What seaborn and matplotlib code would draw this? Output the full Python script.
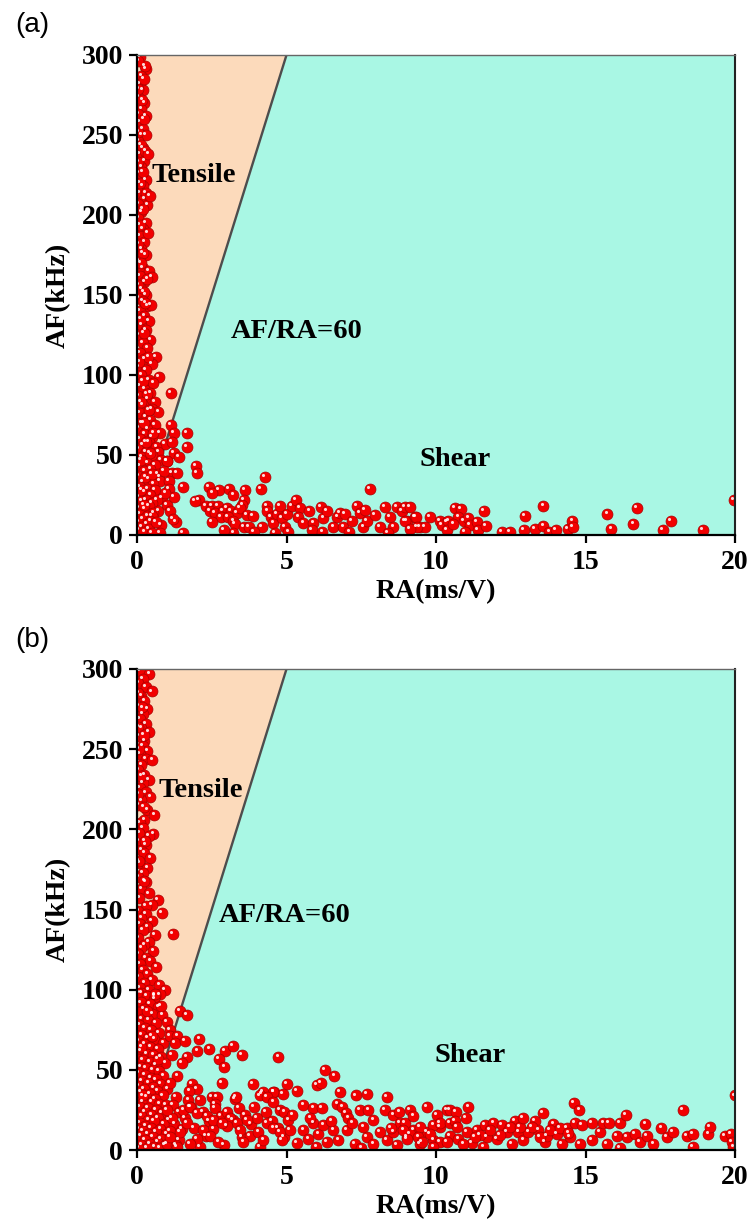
import matplotlib
matplotlib.use("Agg")
import matplotlib.pyplot as plt
import pandas as pd
import seaborn as sns
from matplotlib.transforms import offset_copy

sns.set_theme(style="white")
plt.rcParams["font.family"] = ["Liberation Serif", "DejaVu Serif"]
plt.rcParams["text.color"] = "black"
plt.rcParams["axes.labelcolor"] = "black"
plt.rcParams["xtick.color"] = "black"
plt.rcParams["ytick.color"] = "black"

# ---------------- axis settings ----------------
RA_MAX = 20
AF_MAX = 300
AF_RA_RATIO = 60
X_TICKS = [0, 5, 10, 15, 20]
Y_TICKS = [0, 50, 100, 150, 200, 250, 300]
X_LABEL = "RA(ms/V)"
Y_LABEL = "AF(kHz)"
PANEL_TAGS = ["(a)", "(b)"]
REGION_TEXT = ["Tensile", "AF/RA=60", "Shear"]

# ---------------- panel (a): (RA, AF) events ----------------
column_top_a = [
    (0.1, 299), (0.3, 291), (0.15, 287), (0.1, 282), (0.2, 278), (0.05, 274), (0.25, 270),
    (0.15, 266), (0.3, 262), (0.1, 258), (0.2, 254), (0.15, 250), (0.3, 250), (0.05, 246),
    (0.2, 242), (0.1, 238), (0.25, 234), (0.15, 230), (0.05, 226), (0.3, 222), (0.2, 218),
    (0.1, 214), (0.25, 210), (0.35, 206), (0.15, 202), (0.05, 198), (0.3, 195), (0.2, 191),
    (0.1, 187), (0.25, 183), (0.15, 179), (0.3, 175), (0.05, 171), (0.2, 167), (0.4, 165),
    (0.1, 162), (0.25, 158), (0.15, 154), (0.3, 150), (0.49, 161), (0.27, 293),
    (0.04, 296), (0.22, 285), (0.04, 279), (0.18, 272), (0.05, 263), (0.22, 260),
    (0.04, 252), (0.12, 244), (0.28, 240), (0.05, 233), (0.2, 227), (0.1, 220), (0.3, 214),
    (0.05, 207), (0.2, 204), (0.1, 194), (0.36, 189), (0.05, 182), (0.2, 176), (0.12, 170),
    (0.35, 160), (0.05, 156), (0.22, 152), (0.42, 212), (0.38, 238),
]
column_low_a = [
    (0.05, 148), (0.2, 146), (0.35, 143), (0.47, 144), (0.1, 140), (0.25, 137), (0.4, 134),
    (0.15, 131), (0.3, 128), (0.05, 125), (0.45, 122), (0.2, 120), (0.35, 117), (0.1, 114),
    (0.63, 111), (0.25, 110), (0.5, 107), (0.05, 105), (0.3, 103), (0.15, 100), (0.73, 99),
    (0.4, 97), (0.55, 95), (0.1, 93), (0.25, 91), (0.45, 89), (1.14, 89), (0.05, 87),
    (0.35, 85), (0.6, 83), (0.2, 81), (0.5, 79), (0.71, 77), (0.1, 76), (0.3, 74), (0.45, 72),
    (0.15, 70), (0.6, 69), (1.13, 69), (0.05, 67), (0.35, 66), (0.77, 64), (0.25, 63),
    (0.5, 61), (0.1, 60), (0.4, 58), (0.94, 57), (0.2, 56), (0.65, 55), (0.05, 54), (0.3, 52),
    (0.71, 52), (0.5, 50), (0.15, 49), (0.79, 47), (0.99, 46), (0.35, 45), (0.6, 44),
    (0.1, 43), (0.45, 41), (0.25, 40), (0.7, 38), (0.05, 37), (0.75, 36), (0.4, 35),
    (0.77, 34), (0.2, 33), (0.55, 32), (0.1, 30), (0.35, 29), (0.6, 28), (0.25, 27),
    (0.45, 25), (0.05, 24), (0.83, 23), (0.3, 22), (0.66, 22), (0.15, 21), (0.5, 20),
    (0.99, 19), (0.4, 18), (0.05, 17), (0.25, 16), (0.71, 15), (0.55, 14), (0.1, 13),
    (0.35, 12), (0.5, 12), (0.2, 10), (0.45, 9), (0.05, 8), (0.32, 7), (0.8, 6), (0.15, 5),
    (0.4, 4), (0.05, 3), (0.25, 2), (0.77, 1), (0.5, 1),
    (0.28, 145), (0.12, 135), (0.22, 126), (0.38, 111), (0.08, 108), (0.2, 96),
    (0.32, 88), (0.12, 83), (0.4, 78), (0.22, 70), (0.55, 64), (0.3, 58), (0.12, 47),
    (0.42, 51), (0.28, 36), (0.15, 28), (0.5, 38), (0.22, 19), (0.62, 8),
]
middle_a = [
    (1.24, 64), (1.67, 64), (1.16, 58), (1.67, 55), (1.24, 51), (1.4, 49), (1.0, 46),
    (1.97, 43), (2.0, 39), (1.16, 39), (1.33, 39), (1.07, 34), (1.54, 30), (1.07, 29),
    (1.24, 24), (2.06, 22), (1.94, 21), (1.3, 8), (1.54, 1), (0.9, 40), (1.1, 15),
    (1.2, 10), (0.95, 26),
]
tail_a = [
    (2.41, 30), (2.74, 28), (2.52, 26), (3.08, 29), (3.61, 28), (3.22, 25), (3.58, 22),
    (3.52, 19), (4.15, 29), (4.28, 36), (2.31, 18), (2.5, 18), (2.71, 18), (2.44, 15),
    (2.61, 14), (2.88, 15), (3.0, 17), (3.14, 15), (3.33, 14), (3.44, 17), (3.67, 12.5),
    (3.87, 12), (2.81, 11), (3.04, 11), (3.22, 9), (3.28, 7), (3.58, 5), (3.75, 5),
    (2.5, 8), (3.22, 1), (4.18, 5), (4.34, 18), (4.36, 15), (4.47, 11), (4.56, 7.5),
    (4.67, 13), (4.78, 18), (4.84, 10.5), (5.0, 13), (4.95, 5), (5.06, 2), (5.17, 18),
    (5.32, 22), (5.45, 17), (5.4, 11), (5.56, 7.5), (5.76, 15), (5.9, 7.5), (5.84, 3),
    (6.14, 17.5), (6.23, 10.5), (6.34, 15), (6.57, 5), (6.7, 11), (6.79, 14), (6.96, 13),
    (6.9, 5), (7.18, 9), (7.35, 18), (7.46, 14), (7.63, 15.6), (7.57, 5), (7.68, 9),
    (7.79, 29), (7.96, 12.5), (8.13, 5), (8.29, 17.5), (8.46, 11), (8.57, 5), (8.68, 17.5),
    (8.85, 15), (8.96, 17.5), (9.13, 17.5), (9.02, 9), (9.3, 11), (9.46, 5), (9.63, 5),
    (9.8, 11), (10.13, 9), (10.36, 8), (8.96, 9), (9.33, 11.5), (9.35, 5), (9.13, 4),
    (10.19, 6), (10.41, 9), (10.36, 3), (10.64, 17), (10.83, 16.5), (10.75, 11.5),
    (10.92, 9), (10.58, 7), (11.08, 10.5), (11.14, 6), (10.97, 2), (11.36, 8), (11.41, 3),
    (11.6, 15), (11.67, 5.6), (12.2, 2), (12.47, 2), (12.98, 12), (12.94, 3), (13.31, 3.5),
    (13.59, 18), (13.59, 5.6), (13.79, 2), (14.01, 3), (14.4, 4), (14.56, 9), (14.57, 5),
    (15.73, 13), (15.86, 4), (16.6, 7), (16.71, 17), (17.58, 3), (17.85, 9), (18.92, 3),
    (19.97, 22), (2.9, 3), (3.9, 2), (4.6, 1), (6.2, 2), (7.1, 2), (8.4, 1),
]

# ---------------- panel (b): (RA, AF) events ----------------
column_top_b = [
    (0.1, 299), (0.41, 297), (0.2, 294), (0.05, 291), (0.3, 289), (0.49, 286), (0.15, 283),
    (0.25, 280), (0.05, 277), (0.35, 275), (0.2, 272), (0.1, 269), (0.3, 266), (0.15, 263),
    (0.4, 261), (0.05, 258), (0.25, 255), (0.2, 252), (0.35, 249), (0.1, 247), (0.3, 244),
    (0.51, 243), (0.15, 240), (0.05, 237), (0.25, 234), (0.4, 231), (0.2, 229), (0.1, 226),
    (0.3, 223), (0.45, 220), (0.15, 218), (0.05, 215), (0.35, 212), (0.58, 209), (0.25, 206),
    (0.1, 204), (0.2, 201), (0.55, 197), (0.4, 196), (0.05, 193), (0.3, 190), (0.15, 187),
    (0.25, 185), (0.45, 182), (0.1, 179), (0.35, 176), (0.2, 173), (0.05, 170), (0.69, 156),
    (0.3, 167), (0.15, 163), (0.83, 148), (0.4, 160), (0.5, 153),
    (0.04, 285), (0.18, 276), (0.04, 264), (0.22, 259), (0.06, 250), (0.14, 233),
    (0.04, 222), (0.22, 214), (0.08, 198), (0.26, 193), (0.06, 180), (0.24, 168),
    (0.08, 157), (0.3, 152),
]
column_mid_b = [
    (0.05, 149), (0.3, 147), (0.15, 145), (0.5, 143), (0.1, 141), (0.35, 139), (0.2, 137),
    (1.19, 135), (0.6, 134), (0.05, 132), (0.4, 130), (0.25, 128), (0.15, 126), (0.55, 124),
    (0.05, 122), (0.3, 120), (0.45, 118), (0.1, 116), (0.65, 114), (0.2, 112), (0.35, 110),
    (0.05, 108), (0.5, 106), (0.25, 104), (0.75, 103), (0.1, 101), (0.94, 100), (0.4, 100),
    (0.15, 98), (0.77, 97), (0.6, 96),
]
column_low_b = [
    (0.05, 98), (0.32, 96), (0.58, 94), (0.12, 92), (0.43, 91), (0.71, 89), (0.22, 88),
    (0.03, 86), (0.51, 85), (0.85, 84), (0.17, 82), (0.38, 81), (0.64, 79), (0.08, 78),
    (0.27, 76), (0.99, 80), (0.47, 75), (0.74, 73), (0.14, 72), (0.36, 70), (0.58, 69),
    (0.04, 68), (0.88, 67), (0.24, 66), (0.45, 64), (0.69, 63), (0.11, 62), (0.33, 60),
    (0.55, 59), (0.79, 58), (0.02, 57), (0.2, 56), (0.42, 55), (0.95, 54), (0.63, 53),
    (0.13, 52), (0.3, 51), (0.52, 50), (0.73, 49), (0.07, 48), (0.26, 47), (0.88, 46),
    (0.46, 45), (0.62, 44), (0.16, 43), (0.38, 42), (0.78, 41), (0.04, 40), (0.55, 39),
    (1.02, 38), (0.23, 38), (0.68, 37), (0.11, 36), (0.42, 35), (0.86, 34), (0.31, 33),
    (0.6, 32), (0.03, 31), (0.19, 30), (0.5, 30), (0.75, 29), (0.97, 28), (0.09, 27),
    (0.36, 26), (0.64, 25), (0.26, 24), (0.84, 23), (0.48, 22), (0.02, 22), (0.15, 21),
    (0.7, 20), (1.06, 19), (0.38, 19), (0.57, 18), (0.1, 17), (0.9, 16), (0.28, 15),
    (0.46, 14), (0.78, 13), (0.05, 13), (0.2, 12), (0.62, 11), (0.98, 10), (0.36, 10),
    (0.12, 9), (0.52, 8), (0.8, 7), (0.03, 6), (0.27, 6), (0.68, 5), (0.44, 4), (0.92, 3),
    (0.15, 3), (0.58, 2), (0.33, 1), (0.05, 1), (0.75, 1), (0.2, 34), (0.7, 57), (0.35, 87),
    (0.6, 97), (0.15, 64), (0.5, 71), (0.8, 90),
]
spread_b = [
    (1.44, 87), (1.66, 84), (1.1, 75), (1.1, 71), (1.35, 71), (1.27, 67), (1.6, 68),
    (2.08, 69), (2.02, 62), (2.42, 63), (2.94, 62), (3.2, 65), (3.51, 59), (2.74, 57),
    (2.92, 52), (1.66, 58), (1.49, 54), (1.16, 59), (1.35, 46), (1.1, 42), (1.83, 41),
    (2.0, 38), (2.83, 42), (3.87, 41), (1.75, 37), (2.5, 33), (1.3, 33), (1.72, 31),
    (2.1, 31), (3.28, 32), (4.17, 35), (4.58, 36), (4.73, 58), (6.29, 50), (6.6, 46),
    (5.0, 41), (6.01, 40.5), (6.14, 41.6), (5.34, 37), (4.87, 35), (4.56, 36), (4.2, 36),
    (4.11, 34), (4.34, 33), (4.56, 30), (4.78, 25), (4.93, 24), (3.31, 33), (2.67, 33),
    (2.61, 29), (6.79, 36), (7.31, 34), (7.68, 35), (8.35, 33), (5.56, 28), (5.9, 26),
    (6.18, 26), (6.7, 29), (6.87, 27), (6.99, 23), (7.07, 20), (7.46, 25), (7.74, 25),
    (8.29, 25), (8.57, 22), (8.77, 23.5), (1.2, 28), (1.4, 24), (1.6, 20), (1.25, 16),
    (1.5, 13), (1.8, 27), (2.2, 24), (2.4, 18), (1.9, 14), (2.3, 9), (2.6, 26), (2.8, 21),
    (2.55, 13), (3.0, 24), (3.2, 19), (3.4, 26), (3.6, 22), (3.8, 16), (3.9, 27), (3.5, 8),
    (2.9, 3), (2.1, 2), (1.4, 6), (1.0, 4), (4.0, 20), (4.3, 24), (4.5, 18), (4.7, 14),
    (4.9, 8), (4.1, 2), (1.1, 12), (1.3, 3),
]
tail_b = [
    (3.11, 20), (3.33, 17), (3.0, 15), (3.44, 12.5), (3.67, 19), (3.78, 9), (3.56, 5),
    (4.06, 11), (4.22, 6), (4.34, 17), (4.56, 13.5), (4.78, 11), (4.84, 6), (5.06, 19),
    (5.12, 12.5), (5.34, 4.5), (5.56, 12.5), (5.73, 7), (5.9, 17), (6.06, 10), (6.23, 15.6),
    (6.34, 5), (6.57, 12.5), (6.73, 6), (7.01, 12.5), (7.29, 4), (7.57, 14.5), (7.68, 8),
    (7.9, 4), (8.13, 11), (8.35, 6), (8.57, 11), (8.8, 17), (9.02, 8), (9.24, 12.5),
    (9.46, 4), (9.69, 11), (9.91, 6), (10.13, 14.5), (2.22, 12.5), (2.44, 9), (2.72, 5),
    (2.0, 7), (1.77, 4), (1.66, 17), (1.44, 11), (1.33, 2), (1.1, 8), (1.16, 20),
    (0.99, 25), (1.55, 25), (1.77, 27), (2.0, 23), (2.33, 21), (2.55, 19), (2.83, 17),
    (8.96, 17), (9.13, 25), (9.24, 21), (9.69, 27), (10.02, 22), (10.36, 25),
    (10.47, 25), (10.67, 24), (11.08, 27), (9.46, 14.5), (9.91, 15.6), (10.13, 17),
    (10.47, 17), (10.64, 18), (9.13, 10), (9.41, 8), (9.8, 10), (10.13, 5), (10.47, 9),
    (10.75, 7), (11.03, 11), (11.19, 4.5), (11.36, 12.5), (11.64, 15.6), (11.7, 8),
    (11.92, 17), (12.03, 7), (12.2, 15.6), (12.36, 11), (12.53, 4), (12.64, 18),
    (12.75, 11), (12.92, 6), (13.09, 11), (13.31, 18), (13.42, 12.5), (13.57, 23),
    (13.65, 5), (13.7, 9), (13.92, 16), (14.04, 10), (14.2, 4), (14.37, 13.5), (14.48, 8),
    (14.62, 29.5), (14.79, 25), (14.65, 17), (14.87, 15.6), (14.82, 4), (15.21, 17),
    (15.21, 6), (15.49, 11), (15.6, 17), (15.77, 17), (15.71, 4), (16.04, 9), (16.15, 17),
    (16.15, 1), (16.35, 22), (16.38, 8), (16.66, 10), (16.82, 5), (17.0, 16), (17.05, 9),
    (17.27, 4), (17.54, 13.5), (17.72, 8), (17.92, 11), (18.25, 25), (18.38, 8.7),
    (18.58, 10), (18.58, 1.7), (19.11, 10), (19.16, 14.5), (19.67, 9), (19.87, 10),
    (19.89, 5), (19.94, 2), (20.0, 34), (11.47, 9.4), (11.81, 12.5), (12.14, 9.4),
    (12.47, 14.5), (12.81, 14.5), (13.2, 14.5), (13.48, 8.3), (13.81, 12.5), (14.15, 13.5),
    (14.43, 10.8), (8.91, 12.5), (9.02, 7), (9.52, 5), (9.91, 2), (10.36, 5), (10.69, 14.5),
    (10.91, 4), (11.3, 8.3), (11.58, 2), (5.2, 22), (5.8, 20), (6.5, 18), (7.2, 17),
    (7.9, 19), (8.5, 14), (6.0, 2), (7.5, 1), (8.7, 3), (12.9, 20), (11.0, 20),
]

# ---------------- styling ----------------
TENSILE_COLOR = "#FCDABB"
SHEAR_COLOR = "#A9F7E4"
BOUNDARY_COLOR = "#4d4d4d"
BALL_COLOR = "#f20000"
BALL_EDGE = "#a80000"

panels = [
    dict(points=column_top_a + column_low_a + middle_a + tail_a,
         rect=[137 / 752, 1 - 535 / 1226, 598 / 752, 480 / 1226],
         tag_y=1 - 25 / 1226,
         text_pos=[(0.5, 225), (3.15, 127), (9.45, 47)]),
    dict(points=column_top_b + column_mid_b + column_low_b + spread_b + tail_b,
         rect=[137 / 752, 1 - 1150 / 1226, 598 / 752, 481 / 1226],
         tag_y=1 - 640 / 1226,
         text_pos=[(0.72, 224), (2.72, 146), (9.95, 59)]),
]

fig = plt.figure(figsize=(7.52, 12.26), dpi=100)
fig.patch.set_facecolor("white")

for tag, panel in zip(PANEL_TAGS, panels):
    ax = fig.add_axes(panel["rect"])
    df = pd.DataFrame(panel["points"], columns=["RA", "AF"])

    # classification regions split by the AF/RA = 60 line
    boundary_ra = AF_MAX / AF_RA_RATIO
    ax.fill_between([0, boundary_ra, RA_MAX], 0, [0, AF_MAX, AF_MAX],
                    color=SHEAR_COLOR, lw=0, zorder=0)
    ax.fill_between([0, boundary_ra], [0, AF_MAX], AF_MAX,
                    color=TENSILE_COLOR, lw=0, zorder=0)
    ax.plot([0, boundary_ra], [0, AF_MAX], color=BOUNDARY_COLOR, lw=1.7, zorder=1)

    # shaded red spheres: body plus a small offset highlight
    sns.scatterplot(data=df, x="RA", y="AF", ax=ax, s=62, color=BALL_COLOR,
                    edgecolor=BALL_EDGE, linewidth=0.5, zorder=3, legend=False)
    sns.scatterplot(data=df, x="RA", y="AF", ax=ax, s=5, color="white",
                    linewidth=0, alpha=0.85, zorder=4, legend=False)
    ax.collections[-1].set_offset_transform(
        offset_copy(ax.transData, fig=fig, x=-1.2, y=1.4, units="points"))

    ax.set_xlim(0, RA_MAX)
    ax.set_ylim(0, AF_MAX)
    ax.set_xticks(X_TICKS)
    ax.set_yticks(Y_TICKS)
    ax.tick_params(axis="both", which="major", direction="out", length=6, width=1.6,
                   bottom=True, left=True, labelsize=20, pad=4, colors="black")
    ax.tick_params(axis="x", pad=5)
    for lbl in ax.get_xticklabels() + ax.get_yticklabels():
        lbl.set_fontweight("bold")

    ax.set_xlabel(X_LABEL, fontsize=20, fontweight="bold", labelpad=3, color="black")
    ax.set_ylabel(Y_LABEL, fontsize=20, fontweight="bold", labelpad=8, color="black")

    for side in ["left", "bottom"]:
        ax.spines[side].set_color("black")
        ax.spines[side].set_linewidth(1.6)
    ax.spines["right"].set_color("#222222")
    ax.spines["right"].set_linewidth(1.5)
    ax.spines["top"].set_color("#666666")
    ax.spines["top"].set_linewidth(1.0)
    for sp in ax.spines.values():
        sp.set_zorder(5)

    for txt, (tx, ty) in zip(REGION_TEXT, panel["text_pos"]):
        ax.text(tx, ty, txt, fontsize=20.5, fontweight="bold", ha="left", va="center",
                color="black", zorder=6)

    fig.text(0.02, panel["tag_y"], tag, family=["Liberation Sans", "DejaVu Sans"],
             fontsize=20, va="center", ha="left", color="black")

fig.savefig("out.png", dpi=100, facecolor="white")
